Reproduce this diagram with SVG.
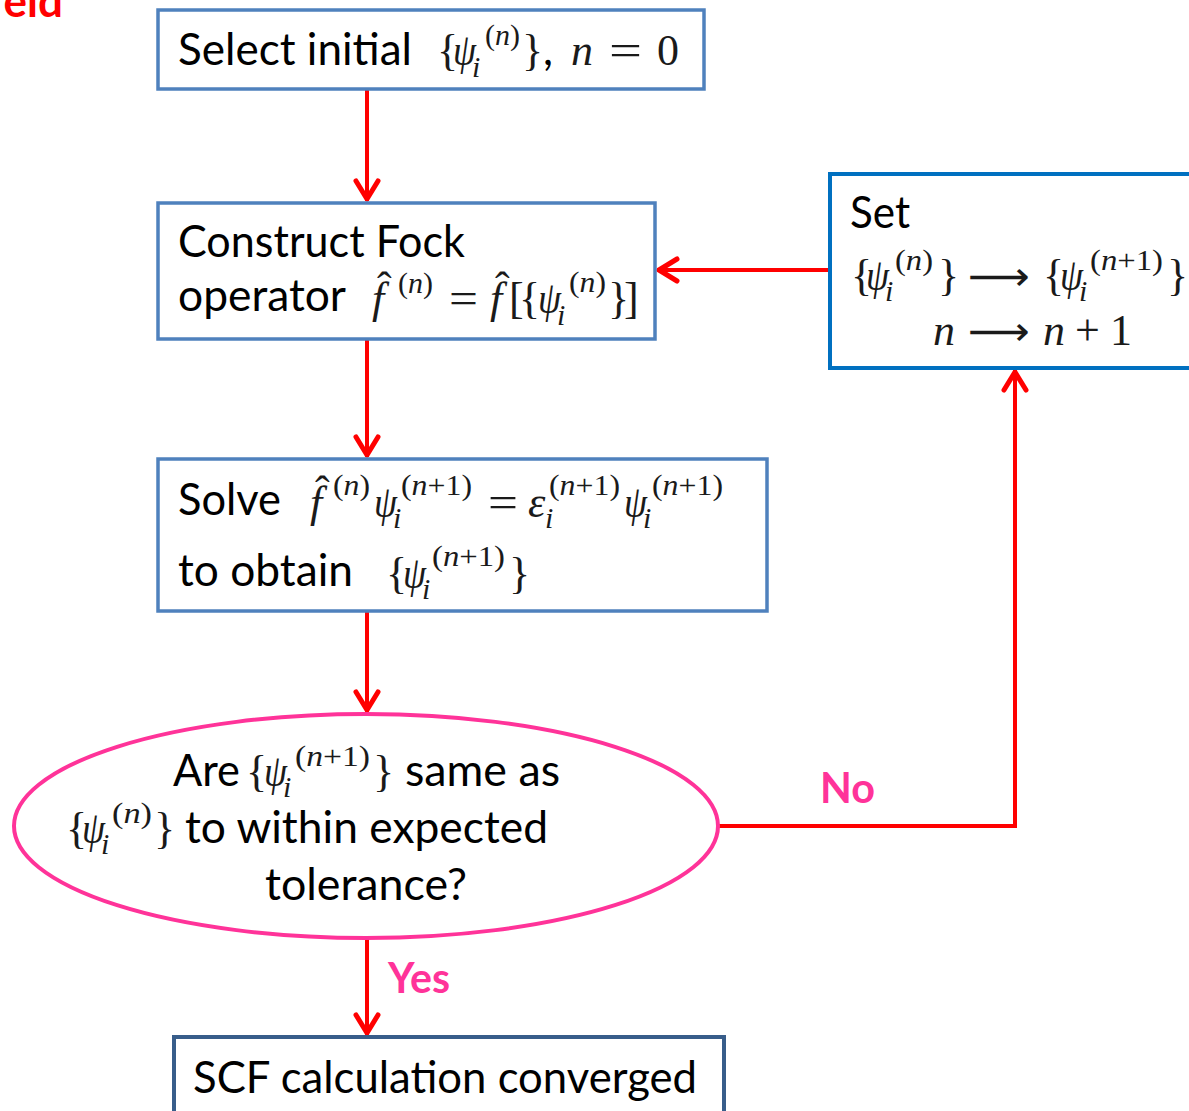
<svg xmlns="http://www.w3.org/2000/svg" width="1189" height="1111" viewBox="0 0 1189 1111">
<style>
.t{font-family:Lato,"Open Sans","Liberation Sans",sans-serif;font-size:44px;fill:#000}
.r{font-family:"Liberation Serif","DejaVu Serif",serif;font-size:44px;fill:#1a1a1a}
.m{font-family:"Liberation Serif","DejaVu Serif",serif;font-size:44px;font-style:italic;fill:#1a1a1a}
.s{font-size:30px}
.i{font-style:italic}
.arr{font-family:"DejaVu Sans",sans-serif;font-size:40px;fill:#1a1a1a}
.box{fill:#fff;stroke:#4F81BD;stroke-width:3.5}
.lbl{font-family:Lato,"Open Sans","Liberation Sans",sans-serif;font-weight:bold;font-size:42px;fill:#FF3399}
.con{fill:none;stroke:#FF0000;stroke-width:4}
</style>
<defs>
<marker id="ah" markerUnits="userSpaceOnUse" markerWidth="40" markerHeight="40" viewBox="-30 -20 40 40" refX="0" refY="0" orient="auto" overflow="visible">
<path d="M-20,-11 L-2,0 L-20,11" fill="none" stroke="#FF0000" stroke-width="5" stroke-linecap="round" stroke-linejoin="round"/>
</marker>
</defs>
<rect width="1189" height="1111" fill="#fff"/>
<text x="63" y="17" text-anchor="end" style="font-family:Lato,'Open Sans',sans-serif;font-weight:bold;font-size:44px;fill:#FF0000">eld</text>

<g id="connectors">
<path class="con" d="M367,89 L367,201" marker-end="url(#ah)"/>
<path class="con" d="M367,339 L367,457" marker-end="url(#ah)"/>
<path class="con" d="M367,611 L367,712" marker-end="url(#ah)"/>
<path class="con" d="M367,938 L367,1035" marker-end="url(#ah)"/>
<path class="con" d="M830,270 L657,270" marker-end="url(#ah)"/>
<path class="con" d="M719,826 L1015,826 L1015,370" marker-end="url(#ah)"/>
<text class="lbl" x="820" y="803" textLength="55" lengthAdjust="spacingAndGlyphs">No</text>
<text class="lbl" x="388" y="993" textLength="62" lengthAdjust="spacingAndGlyphs">Yes</text>
</g>

<g id="select">
<rect class="box" x="158" y="10" width="546" height="79"/>
<text class="t" x="178" y="65" textLength="234" lengthAdjust="spacingAndGlyphs">Select initial</text>
<text class="r" x="437" y="65">{</text>
<text class="m" x="453" y="65" textLength="23" lengthAdjust="spacingAndGlyphs">ψ</text>
<text class="r s" x="485" y="45" textLength="35" lengthAdjust="spacingAndGlyphs">(<tspan class="i">n</tspan>)</text>
<text class="m s" x="472" y="77">i</text>
<text class="r" x="522" y="65">}</text>
<text class="t" x="543" y="65">,</text>
<text class="m" x="571" y="65">n</text>
<text class="r" x="609" y="65" textLength="33" lengthAdjust="spacingAndGlyphs">=</text>
<text class="r" x="657" y="65">0</text>
</g>

<g id="fock">
<rect class="box" x="158" y="203" width="497" height="136"/>
<text class="t" x="178" y="257" textLength="287" lengthAdjust="spacingAndGlyphs">Construct Fock</text>
<text class="t" x="178" y="311" textLength="168" lengthAdjust="spacingAndGlyphs">operator</text>
<text class="m" x="372" y="313">f</text>
<text class="r" x="377" y="302">ˆ</text>
<text class="r s" x="398" y="293" textLength="35" lengthAdjust="spacingAndGlyphs">(<tspan class="i">n</tspan>)</text>
<text class="r" x="449" y="313" textLength="29" lengthAdjust="spacingAndGlyphs">=</text>
<text class="m" x="490" y="313">f</text>
<text class="r" x="495" y="302">ˆ</text>
<text class="r" x="509" y="313">[</text>
<text class="r" x="519" y="313">{</text>
<text class="m" x="538" y="313" textLength="23" lengthAdjust="spacingAndGlyphs">ψ</text>
<text class="r s" x="569" y="292" textLength="37" lengthAdjust="spacingAndGlyphs">(<tspan class="i">n</tspan>)</text>
<text class="m s" x="557" y="325">i</text>
<text class="r" x="608" y="313">}</text>
<text class="r" x="624" y="313">]</text>
</g>

<g id="set">
<rect x="830" y="174" width="400" height="194" fill="#fff" stroke="#0070C0" stroke-width="4"/>
<text class="t" x="850" y="228" textLength="60" lengthAdjust="spacingAndGlyphs">Set</text>
<text class="r" x="851" y="290">{</text>
<text class="m" x="866" y="290" textLength="23" lengthAdjust="spacingAndGlyphs">ψ</text>
<text class="r s" x="895" y="270" textLength="38" lengthAdjust="spacingAndGlyphs">(<tspan class="i">n</tspan>)</text>
<text class="m s" x="885" y="301">i</text>
<text class="r" x="938" y="290">}</text>
<text class="arr" x="968" y="290" textLength="62" lengthAdjust="spacingAndGlyphs">⟶</text>
<text class="r" x="1043" y="290">{</text>
<text class="m" x="1060" y="290" textLength="23" lengthAdjust="spacingAndGlyphs">ψ</text>
<text class="r s" x="1090" y="270" textLength="73" lengthAdjust="spacingAndGlyphs">(<tspan class="i">n</tspan>+1)</text>
<text class="m s" x="1079" y="301">i</text>
<text class="r" x="1167" y="290">}</text>
<text class="m" x="933" y="345">n</text>
<text class="arr" x="968" y="345" textLength="62" lengthAdjust="spacingAndGlyphs">⟶</text>
<text class="m" x="1043" y="345">n</text>
<text class="r" x="1075" y="345">+</text>
<text class="r" x="1110" y="345">1</text>
</g>

<g id="solve">
<rect class="box" x="158" y="459" width="609" height="152"/>
<text class="t" x="178" y="515" textLength="103" lengthAdjust="spacingAndGlyphs">Solve</text>
<text class="m" x="310" y="517">f</text>
<text class="r" x="315" y="506">ˆ</text>
<text class="r s" x="333" y="495" textLength="37" lengthAdjust="spacingAndGlyphs">(<tspan class="i">n</tspan>)</text>
<text class="m" x="374" y="517" textLength="23" lengthAdjust="spacingAndGlyphs">ψ</text>
<text class="m s" x="393" y="528">i</text>
<text class="r s" x="401" y="495" textLength="71" lengthAdjust="spacingAndGlyphs">(<tspan class="i">n</tspan>+1)</text>
<text class="r" x="488" y="517" textLength="30" lengthAdjust="spacingAndGlyphs">=</text>
<text class="m" x="528" y="517">ε</text>
<text class="m s" x="545" y="528">i</text>
<text class="r s" x="549" y="495" textLength="71" lengthAdjust="spacingAndGlyphs">(<tspan class="i">n</tspan>+1)</text>
<text class="m" x="624" y="517" textLength="23" lengthAdjust="spacingAndGlyphs">ψ</text>
<text class="m s" x="643" y="528">i</text>
<text class="r s" x="652" y="495" textLength="71" lengthAdjust="spacingAndGlyphs">(<tspan class="i">n</tspan>+1)</text>
<text class="t" x="178" y="586" textLength="175" lengthAdjust="spacingAndGlyphs">to obtain</text>
<text class="r" x="386" y="588">{</text>
<text class="m" x="403" y="588" textLength="23" lengthAdjust="spacingAndGlyphs">ψ</text>
<text class="m s" x="422" y="599">i</text>
<text class="r s" x="432" y="566" textLength="73" lengthAdjust="spacingAndGlyphs">(<tspan class="i">n</tspan>+1)</text>
<text class="r" x="509" y="588">}</text>
</g>

<g id="check">
<ellipse cx="366" cy="826" rx="352" ry="112" fill="#fff" stroke="#FF3399" stroke-width="4"/>
<text class="t" x="173" y="786" textLength="67" lengthAdjust="spacingAndGlyphs">Are</text>
<text class="r" x="246" y="786">{</text>
<text class="m" x="264" y="786" textLength="23" lengthAdjust="spacingAndGlyphs">ψ</text>
<text class="m s" x="283" y="797">i</text>
<text class="r s" x="295" y="766" textLength="75" lengthAdjust="spacingAndGlyphs">(<tspan class="i">n</tspan>+1)</text>
<text class="r" x="373" y="786">}</text>
<text class="t" x="405" y="786" textLength="155" lengthAdjust="spacingAndGlyphs">same as</text>
<text class="r" x="66" y="843">{</text>
<text class="m" x="82" y="843" textLength="23" lengthAdjust="spacingAndGlyphs">ψ</text>
<text class="m s" x="101" y="854">i</text>
<text class="r s" x="112" y="823" textLength="40" lengthAdjust="spacingAndGlyphs">(<tspan class="i">n</tspan>)</text>
<text class="r" x="154" y="843">}</text>
<text class="t" x="185" y="843" textLength="363" lengthAdjust="spacingAndGlyphs">to within expected</text>
<text class="t" x="265" y="900" textLength="202" lengthAdjust="spacingAndGlyphs">tolerance?</text>
</g>

<g id="converged">
<rect x="174" y="1037" width="550" height="90" fill="#fff" stroke="#385D8A" stroke-width="4"/>
<text class="t" x="193" y="1093" textLength="504" lengthAdjust="spacingAndGlyphs">SCF calculation converged</text>
</g>
</svg>
